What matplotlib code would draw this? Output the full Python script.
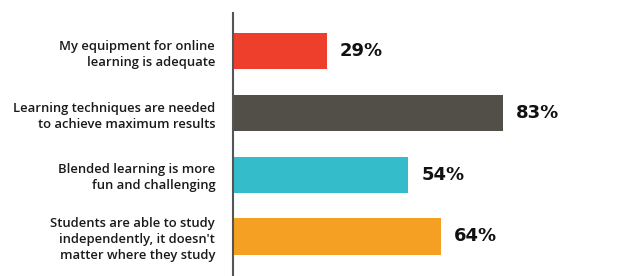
import matplotlib
matplotlib.use("Agg")
import matplotlib.pyplot as plt

categories = [
    "My equipment for online\nlearning is adequate",
    "Learning techniques are needed\nto achieve maximum results",
    "Blended learning is more\nfun and challenging",
    "Students are able to study\nindependently, it doesn't\nmatter where they study",
]
values = [29, 83, 54, 64]
colors = ["#EE3F2C", "#524E48", "#35BCCA", "#F6A023"]

plt.rcParams['font.family'] = ['Open Sans', 'DejaVu Sans']

fig = plt.figure(figsize=(6.35, 2.76), dpi=100)
ax = fig.add_axes([232.5 / 635, 0, (635 - 232.5) / 635, (276 - 13) / 276])

pos = list(range(len(values)))
ax.barh(pos, values, height=0.59, color=colors, edgecolor='none')
ax.set_xlim(0, 123.7)
ax.set_ylim(3.64, -0.62)

for p, v in zip(pos, values):
    ax.text(v + 4.0, p, f"{v}%", va='center', ha='left', fontsize=13,
            fontweight='bold', color='#111111', family=['DejaVu Sans'])

ax.set_yticks(pos)
ax.set_yticklabels(categories, fontsize=9.4, fontweight='semibold', color='#1a1a1a',
                   linespacing=1.3)
ax.tick_params(axis='y', length=0, pad=12.5)
ax.set_xticks([])
for s in ['top', 'right', 'bottom']:
    ax.spines[s].set_visible(False)
ax.spines['left'].set_color('#555555')
ax.spines['left'].set_linewidth(1.5)

fig.savefig("out.png", dpi=100)
